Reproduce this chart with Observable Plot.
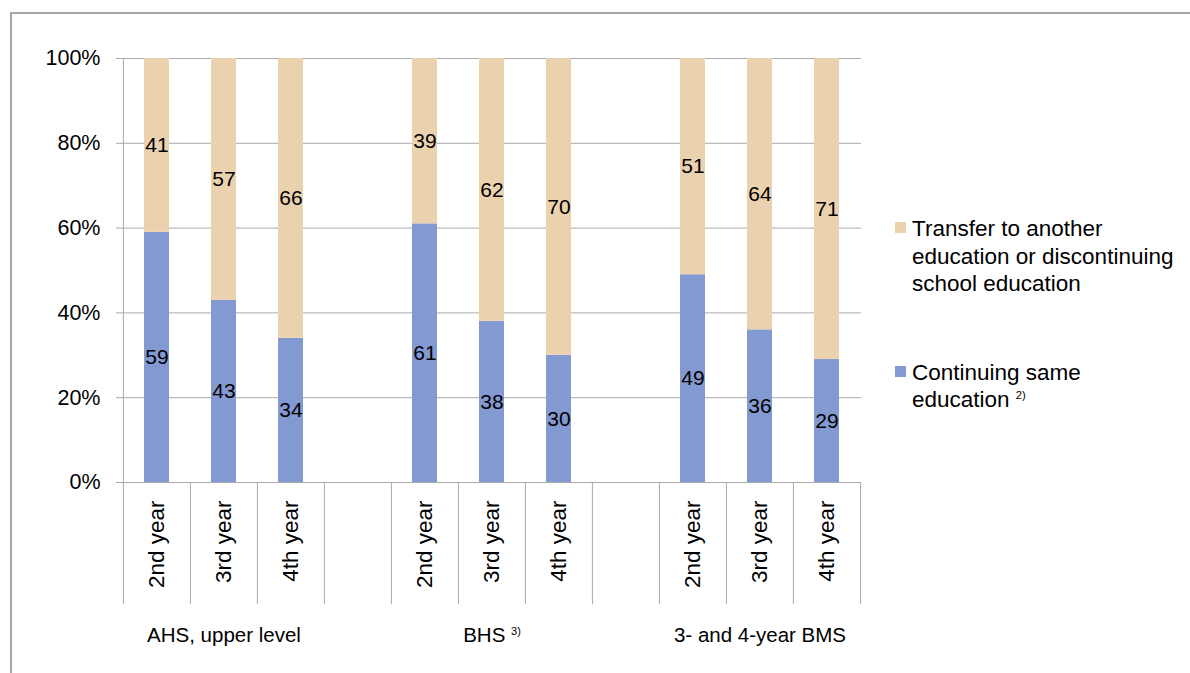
<!DOCTYPE html>
<html>
<head>
<meta charset="utf-8">
<script src="https://cdn.jsdelivr.net/npm/d3@7"></script>
<script src="https://cdn.jsdelivr.net/npm/@observablehq/plot@0.6"></script>
<style>
  html, body { margin: 0; padding: 0; background: #fff; overflow: hidden; }
  body { width: 1190px; height: 673px; position: relative; font-family: "Liberation Sans", Arial, sans-serif; }
  #chart { position: absolute; left: 0; top: 0; }
  #frame { position: absolute; left: 10px; top: 12px; width: 2000px; height: 2000px;
           border-top: 2px solid #a6a6a6; border-left: 2px solid #a6a6a6; pointer-events: none; }
  .legend-item { position: absolute; left: 895px; font-size: 22.5px; line-height: 27.5px; color: #000; }
  .legend-item .swatch { position: absolute; left: 0; width: 11px; height: 11px; }
  .legend-item .label { position: absolute; left: 17px; white-space: nowrap; }
  .legend-item sup { font-size: 11px; vertical-align: 8px; line-height: 0; }
</style>
</head>
<body>
<div id="chart"></div>
<div id="frame"></div>
<div id="legend"></div>
<script>
// School types (groups) and school years within each group
const groups = ["AHS, upper level", "BHS", "3- and 4-year BMS"];
const groupNotes = ["", "3)", ""];
const years = ["2nd year", "3rd year", "4th year"];

// Share (%) of pupils per group/year, in group-major order
const continuing = [59, 43, 34, 61, 38, 30, 49, 36, 29];
const transfer = [41, 57, 66, 39, 62, 70, 51, 64, 71];

// Series (bottom to top in each stacked bar)
const seriesKeys = ["continuing", "transfer"];
const seriesColors = ["#8399d2", "#ebd2ae"];
const legendOrder = ["transfer", "continuing"];
const legendLines = {
  transfer: ["Transfer to another", "education or discontinuing", "school education"],
  continuing: ["Continuing same", "education"]
};
const legendNotes = { transfer: "", continuing: "2)" };

const yTicks = [0, 20, 40, 60, 80, 100];

// Layout
const width = 1190, height = 673;
const marginLeft = 122, marginRight = 329, marginTop = 58, marginBottom = 191;
const plotHeight = height - marginTop - marginBottom;
const separatorDrop = 122;
const axisGray = "#aaaaaa";

// Category slots: three bars per group, one empty slot between groups
const slots = [];
groups.forEach((g, gi) => {
  if (gi > 0) slots.push(`gap${gi}`);
  years.forEach(y => slots.push(`${g}|${y}`));
});
const step = (width - marginLeft - marginRight) / slots.length;

const records = [];
groups.forEach((g, gi) => {
  years.forEach((y, yi) => {
    const i = gi * years.length + yi;
    records.push({slot: `${g}|${y}`, series: "continuing", value: continuing[i]});
    records.push({slot: `${g}|${y}`, series: "transfer", value: transfer[i]});
  });
});

const groupLabels = groups.map((g, gi) => ({
  slot: `${g}|${years[1]}`,
  name: g,
  note: groupNotes[gi],
  label: groupNotes[gi] ? `${g} ${groupNotes[gi]}` : g
}));

const chart = Plot.plot({
  width, height, marginLeft, marginRight, marginTop, marginBottom,
  style: {fontFamily: "'Liberation Sans', Arial, sans-serif", fontSize: "21px", color: "#000", background: "transparent"},
  x: {domain: slots, paddingInner: 0.63, paddingOuter: 0.315},
  y: {domain: [0, 100]},
  color: {domain: seriesKeys, range: seriesColors},
  marks: [
    Plot.gridY(yTicks, {stroke: axisGray, strokeOpacity: 1}),
    Plot.barY(records, {x: "slot", y: "value", fill: "series"}),
    Plot.text(records, Plot.stackY({x: "slot", y: "value", z: "series", text: "value", fontSize: 21, fill: "#000"})),
    // vertical axis line, continued down as the first category separator
    Plot.ruleX(slots.slice(0, 1), {x: d => d, dx: -step / 2, stroke: axisGray, insetBottom: -separatorDrop}),
    // category separators below the baseline
    Plot.ruleX(slots.slice(1), {x: d => d, dx: -step / 2, stroke: axisGray, insetTop: plotHeight, insetBottom: -separatorDrop}),
    Plot.ruleX(slots.slice(-1), {x: d => d, dx: step / 2, stroke: axisGray, insetTop: plotHeight, insetBottom: -separatorDrop}),
    Plot.ruleY([0], {stroke: axisGray, insetLeft: -6}),
    Plot.axisY({ticks: yTicks, tickFormat: d => `${d}%`, tickSize: 6, tickPadding: 16, fontSize: 21.5, stroke: axisGray, fill: "#000", label: null}),
    Plot.axisX({tickSize: 0, tickRotate: -90, tickPadding: 18, fontSize: 22.5, fill: "#000", label: null,
      tickFormat: d => d.includes("|") ? d.split("|")[1] : ""}),
    Plot.text(groupLabels, {x: "slot", text: "label", frameAnchor: "bottom", dy: 159, fontSize: 20.5, fill: "#000"})
  ]
});

// footnote markers in group labels as superscripts
d3.select(chart).selectAll("text").each(function () {
  const entry = groupLabels.find(d => d.note && d.label === this.textContent);
  if (!entry) return;
  const sel = d3.select(this);
  sel.selectAll("*").remove();
  sel.text(null);
  sel.append("tspan").text(entry.name + " ");
  sel.append("tspan").attr("font-size", 11).attr("dy", -7).text(entry.note);
});

document.getElementById("chart").appendChild(chart);

// legend, to the right of the plot
const legendTops = {transfer: 215, continuing: 358.5};
const legend = d3.select("#legend");
legendOrder.forEach(key => {
  const item = legend.append("div").attr("class", "legend-item").style("top", `${legendTops[key]}px`);
  item.append("span").attr("class", "swatch")
    .style("top", "7px")
    .style("background", seriesColors[seriesKeys.indexOf(key)]);
  const label = item.append("div").attr("class", "label");
  const lines = legendLines[key];
  lines.forEach((line, i) => {
    label.append("span").text(line);
    if (i === lines.length - 1 && legendNotes[key]) {
      label.append("span").text(" ");
      label.append("sup").text(legendNotes[key]);
    }
    if (i < lines.length - 1) label.append("br");
  });
});
</script>
</body>
</html>
